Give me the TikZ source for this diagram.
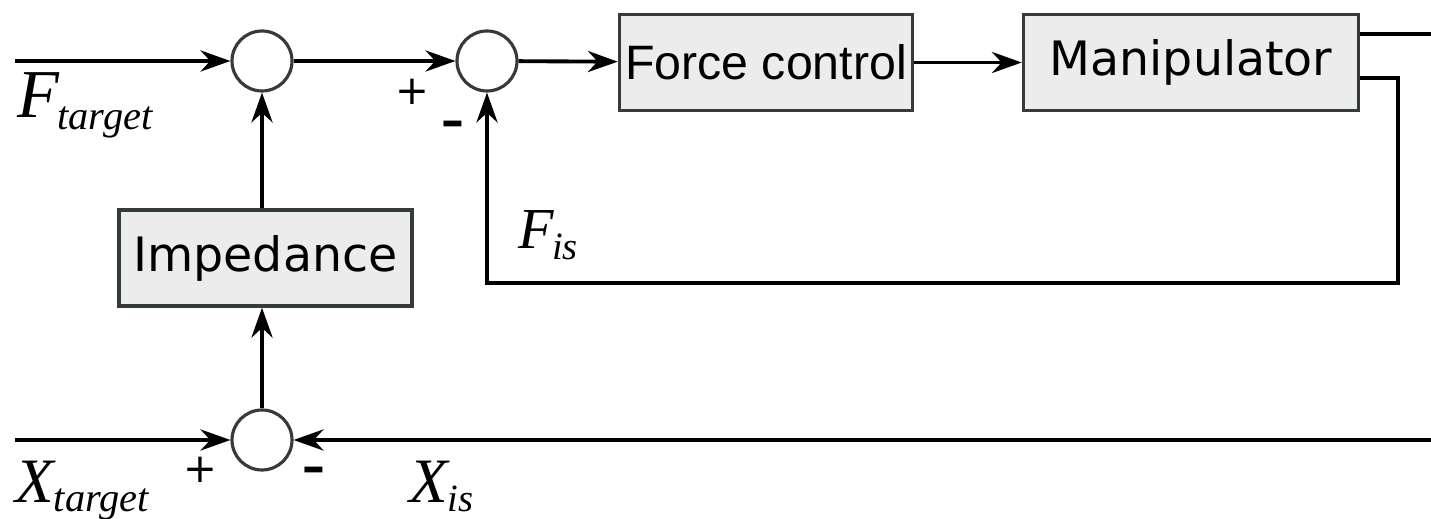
\documentclass[tikz,border=0pt]{standalone}
\usepackage{fontspec}
\usetikzlibrary{arrows.meta}
\newfontfamily\boxfont{DejaVu Sans}
\newfontfamily\forcefont{Liberation Sans}
\newfontfamily\sigfont{Liberation Serif}
\definecolor{blocfill}{HTML}{ECECEC}
\definecolor{trait}{HTML}{353A3B}
\begin{document}
\begin{tikzpicture}[x=0.02cm, y=-0.02cm,
		sig/.style={line width=2.2pt, -{Stealth[length=17pt, width=12pt, inset=5.5pt]}},
		wire/.style={line width=2.2pt},
		sum/.style={circle, draw=trait, line width=1.8pt, fill=white, minimum size=1.2cm, inner sep=0pt},
		bloc/.style={rectangle, draw=trait, line width=2pt, fill=blocfill, minimum height=1.92cm, inner sep=0pt, font=\boxfont\fontsize{27}{30}\selectfont},
		lbl/.style={anchor=base west, inner sep=0pt, font=\sigfont\itshape},
		sgn/.style={inner sep=0pt, font=\boxfont\fontsize{23}{23}\selectfont},
		moins/.style={inner sep=0pt, font=\boxfont\bfseries\fontsize{26}{26}\selectfont}]
		\useasboundingbox (0,0) rectangle (1431,519);
		%Noeuds du schéma
		\node[sum] (S1) at (262,61) {};
		\node[sum] (S2) at (487,61) {};
		\node[sum] (S3) at (262,440) {};
		\node[bloc, minimum width=5.86cm] (FC) at (766,62.5) {\forcefont\fontsize{27.5}{30}\selectfont Force control};
		\node[bloc, minimum width=6.7cm] (MAN) at (1191,62.5) {Manipulator};
		\node[bloc, minimum width=5.86cm] (IMP) at (265.5,258) {Impedance};
		%Extrémités libres
		\coordinate (Fin) at (15,61);
		\coordinate (Xin) at (15,440);
		\coordinate (Xout) at (1431,440);
		\coordinate (Out) at (1431,34);
		\coordinate (FB1) at (1398,78);
		\coordinate (FB2) at (1398,283);
		%Liaisons
		\draw[sig] (Fin) -- (S1);
		\draw[sig] (S1) -- (S2);
		\draw[sig] (S2) -- (FC);
		\draw[sig] (FC) -- (MAN);
		\draw[wire] (MAN.east |- Out) -- (Out);
		\draw[sig] (MAN.east |- FB1) -- (FB1) -- (FB2) -| (S2.south);
		\draw[sig] (IMP.north -| S1) -- (S1.south);
		\draw[sig] (S3.north) -- (S3.north |- IMP.south);
		\draw[sig] (Xin) -- (S3);
		\draw[sig] (Xout) -- (S3);
		%Etiquettes
		\node[lbl] (Ft) at (17,118) {\fontsize{39}{40}\selectfont F\kern-1pt\raisebox{-6.8pt}{\fontsize{23}{24}\selectfont target}};
		\node[lbl] (Fis) at (518,249) {\fontsize{33}{34}\selectfont F\kern-1pt\raisebox{-6pt}{\fontsize{22}{22}\selectfont is}};
		\node[lbl] (Xt) at (15,503) {\fontsize{36}{38}\selectfont X\raisebox{-5pt}{\fontsize{23}{24}\selectfont target}};
		\node[lbl] (Xis) at (409,503) {\fontsize{36}{38}\selectfont X\raisebox{-5pt}{\fontsize{22}{22}\selectfont is}};
		\node[sgn] (P1) at (412,92) {+};
		\node[moins] (M1) at (453,129) {–};
		\node[sgn] (P2) at (200,470) {+};
		\node[moins] (M2) at (314,475) {–};
\end{tikzpicture}
\end{document}
